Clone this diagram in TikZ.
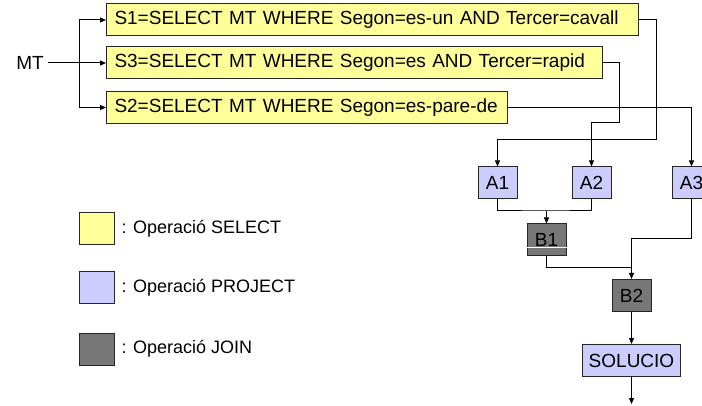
\documentclass[tikz,border=0pt]{standalone}
\usepackage{fontspec}
\setmainfont{Liberation Sans}
\usetikzlibrary{arrows.meta}
\definecolor{selcol}{HTML}{FFFF99}
\definecolor{projcol}{HTML}{CCCCFF}
\definecolor{joincol}{HTML}{777777}
\begin{document}
\begin{tikzpicture}[x=1pt, y=-1pt, line width=1pt, >={Triangle[length=6pt,width=5pt]},
  op/.style={draw=black!85, minimum height=32pt, inner sep=0pt, font=\fontsize{19}{22}\selectfont},
  selbox/.style={op, fill=selcol, anchor=west, align=left, inner xsep=8pt},
  projbox/.style={op, fill=projcol, minimum width=39pt},
  joinbox/.style={op, fill=joincol, minimum width=39pt},
  legtext/.style={anchor=west, inner sep=0pt, font=\fontsize{18}{22}\selectfont}]
  \useasboundingbox (0,0) rectangle (702,406);

  % selects
  \node[selbox, text width=516pt] (s1) at (106,20) {S1=SELECT MT WHERE Segon=es-un AND Tercer=cavall};
  \node[selbox, text width=480pt] (s3) at (106,63) {S3=SELECT MT WHERE Segon=es AND Tercer=rapid};
  \node[selbox, text width=385pt] (s2) at (106,107.5) {S2=SELECT MT WHERE Segon=es-pare-de};

  \node[font=\fontsize{19}{22}\selectfont] (mt) at (30,63) {MT};
  \coordinate (fork) at (79,63);
  \draw[->] (mt.east) -- (s3.west);
  \draw[->] (fork) |- (s1.west);
  \draw[->] (fork) |- (s2.west);

  % projects and joins
  \node[projbox] (a1) at (497.5,183) {A1};
  \node[projbox] (a2) at (591.5,183) {A2};
  \node[projbox] (a3) at (691.5,183) {A3};
  \node[joinbox] (b1) at (546.5,240) {B1};
  \draw[white, line width=0.8pt] (b1.west |- 0,247) -- (b1.east |- 0,247);
  \node[joinbox] (b2) at (631.5,295.5) {B2};
  \node[projbox, minimum width=98pt] (sol) at (631.5,360.5) {SOLUCIO};

  \draw[->] (s1.east) -| (656,140) -| (a1.north);
  \draw[->] (s3.east) -| (619,123) -| (a2.north);
  \draw[->] (s2.east) -| (a3.north);

  \coordinate (j1) at (546.5,211);
  \coordinate (j2) at (631.5,239);
  \coordinate (j3) at (631.5,268);
  \coordinate (out) at (631.5,404);
  \draw (a1.south) |- (j1) -| (a2.south);
  \draw[->] (j1) -- (b1.north);
  \draw (b1.south) |- (j3);
  \draw[->] (a3.south) |- (j2) -- (b2.north);
  \draw[->] (b2.south) -- (sol.north);
  \draw[->] (sol.south) -- (out);

  % legend
  \node[op, fill=selcol, minimum width=35pt] (ls) at (96.5,229) {};
  \node[op, fill=projcol, minimum width=35pt] (lp) at (96.5,287.5) {};
  \node[op, fill=joincol, minimum width=35pt] (lj) at (96.5,349) {};
  \node[legtext] (ts) at (121,229) {: Operació SELECT};
  \node[legtext] (tp) at (121,287.5) {: Operació PROJECT};
  \node[legtext] (tj) at (121,349) {: Operació JOIN};
\end{tikzpicture}
\end{document}
